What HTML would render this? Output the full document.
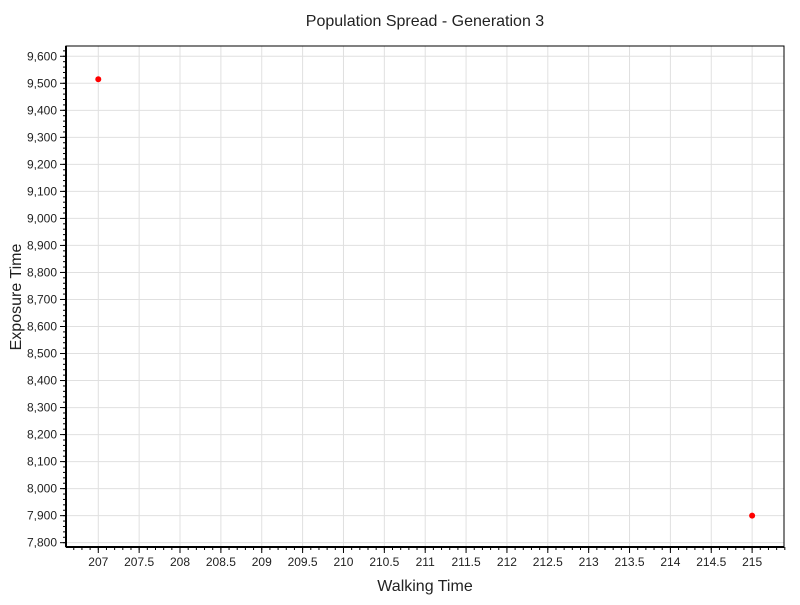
<!DOCTYPE html>
<html><head><meta charset="utf-8"><style>
body{margin:0;background:#fff;font-family:"Liberation Sans",sans-serif}
svg text{font-family:"Liberation Sans",sans-serif;fill:#222}
</style></head><body>
<svg id="c" width="800" height="600" xmlns="http://www.w3.org/2000/svg">
<text x="425" y="26" text-anchor="middle" font-size="16">Population Spread - Generation 3</text>
<text x="425" y="591" text-anchor="middle" font-size="16">Walking Time</text>
<text transform="translate(21,297) rotate(-90)" text-anchor="middle" font-size="16">Exposure Time</text>
<g id="grid"></g><g id="axes"></g><g id="pts"></g>
</svg>
<script>
const walkingTimes=[207,215];
const exposureTimes=[9515,7900];
const xTicks=[207,207.5,208,208.5,209,209.5,210,210.5,211,211.5,212,212.5,213,213.5,214,214.5,215];
const yTicks=[7800,7900,8000,8100,8200,8300,8400,8500,8600,8700,8800,8900,9000,9100,9200,9300,9400,9500,9600];
const L=66,R=784,T=46,B=547,xmin=206.605,xmax=215.39,ymin=7784,ymax=9638;
const sx=v=>L+(v-xmin)/(xmax-xmin)*(R-L);
const sy=v=>B-(v-ymin)/(ymax-ymin)*(B-T);
const NS="http://www.w3.org/2000/svg";
function mk(t,a,p){const e=document.createElementNS(NS,t);for(const k in a)e.setAttribute(k,a[k]);p.appendChild(e);return e;}
const g=document.getElementById('grid'),ax=document.getElementById('axes'),pts=document.getElementById('pts');
xTicks.forEach(v=>{const x=sx(v);
const l=mk('line',{x1:x,x2:x,y1:T,y2:B,stroke:'#e0e0e0'},g);

mk('line',{x1:x,x2:x,y1:B,y2:B+6,stroke:'#000'},ax);
const t=mk('text',{x:x,y:B+19,'text-anchor':'middle','font-size':12},ax);t.textContent=v;
});
for(let v=206.7;v<215.4;v+=0.1){const x=sx(v);mk('line',{x1:x,x2:x,y1:B,y2:B+3,stroke:'#000'},ax);}
yTicks.forEach(v=>{const y=sy(v);
const l=mk('line',{x1:L,x2:R,y1:y,y2:y,stroke:'#e0e0e0'},g);

mk('line',{x1:L-6,x2:L,y1:y,y2:y,stroke:'#000'},ax);
const t=mk('text',{x:L-9,y:y+4,'text-anchor':'end','font-size':12},ax);t.textContent=v.toLocaleString('en-US');
});
for(let v=7800;v<=9620;v+=20){const y=sy(v);mk('line',{x1:L-3,x2:L,y1:y,y2:y,stroke:'#000'},ax);}
const fr=mk('rect',{x:L,y:T,width:R-L,height:B-T,fill:'none',stroke:'#000','stroke-width':1},ax);

mk('line',{x1:L,x2:R,y1:B,y2:B,stroke:'#000','stroke-width':2},ax);
mk('line',{x1:L,x2:L,y1:T,y2:B,stroke:'#000','stroke-width':2},ax);
walkingTimes.forEach((w,i)=>{const c=mk('circle',{cx:sx(w),cy:sy(exposureTimes[i]),r:3,fill:'#f00'},pts);
});
</script>
</body></html>
